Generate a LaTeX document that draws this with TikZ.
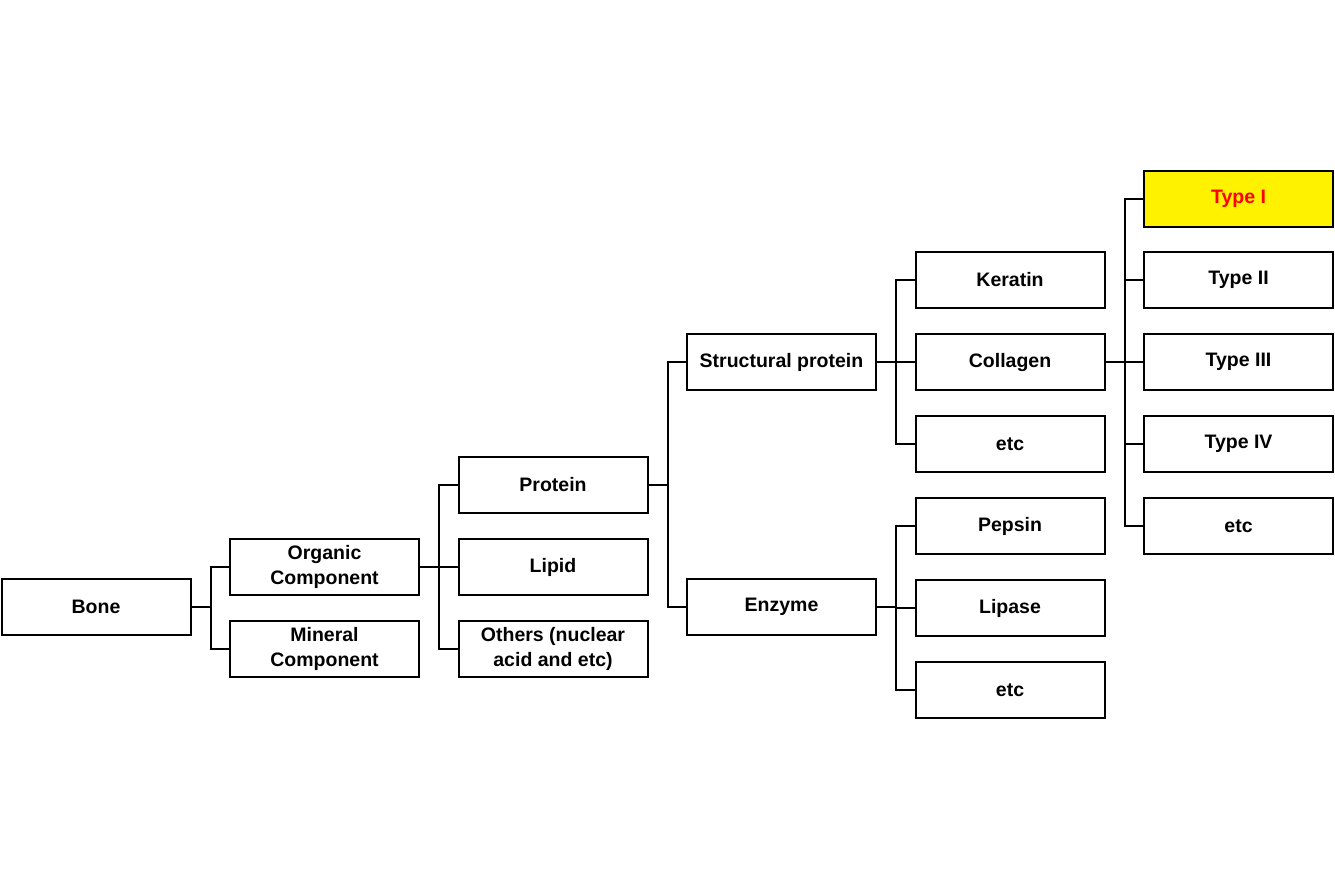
\documentclass[tikz,border=0pt]{standalone}
\usepackage{fontspec}
\setmainfont{Liberation Sans}
\begin{document}
\begin{tikzpicture}[x=1pt,y=-1pt]

\tikzstyle{box}=[rectangle, draw, line width=2pt, minimum width=189pt, minimum height=56pt, inner sep=0pt, align=center, font=\fontsize{19.5}{25}\selectfont\bfseries]
\tikzstyle{hbox}=[box, fill=yellow, text=red]
\tikzstyle{link}=[line width=2pt]

\useasboundingbox (0,0) rectangle (1335,889);

\node (bone) [box] at (96,607) {Bone};

\node (organic) [box] at (324.5,567) {Organic\\Component};
\node (mineral) [box] at (324.5,649) {Mineral\\Component};

\node (protein) [box] at (553,485) {Protein};
\node (lipid) [box] at (553,567) {Lipid};
\node (others) [box] at (553,649) {Others (nuclear\\acid and etc)};

\node (struct) [box] at (781.5,362) {Structural protein};
\node (enzyme) [box] at (781.5,607) {Enzyme};

\node (keratin) [box] at (1010,280) {Keratin};
\node (collagen) [box] at (1010,362) {Collagen};
\node (etcA) [box] at (1010,444) {etc};
\node (pepsin) [box] at (1010,526) {Pepsin};
\node (lipase) [box] at (1010,608) {Lipase};
\node (etcB) [box] at (1010,690) {etc};

\node (typeI) [hbox] at (1238.5,199) {Type I};
\node (typeII) [box] at (1238.5,280) {Type II};
\node (typeIII) [box] at (1238.5,362) {Type III};
\node (typeIV) [box] at (1238.5,444) {Type IV};
\node (etcC) [box] at (1238.5,526) {etc};


\draw [link] (bone.east) -- ++(19,0) |- (organic.west);
\draw [link] (bone.east) -- ++(19,0) |- (mineral.west);

\draw [link] (organic.east) -- ++(19,0) |- (protein.west);
\draw [link] (organic.east) -- ++(19,0) |- (lipid.west);
\draw [link] (organic.east) -- ++(19,0) |- (others.west);

\draw [link] (protein.east) -- ++(19,0) |- (struct.west);
\draw [link] (protein.east) -- ++(19,0) |- (enzyme.west);

\draw [link] (struct.east) -- ++(19,0) |- (keratin.west);
\draw [link] (struct.east) -- ++(19,0) |- (collagen.west);
\draw [link] (struct.east) -- ++(19,0) |- (etcA.west);

\draw [link] (enzyme.east) -- ++(19,0) |- (pepsin.west);
\draw [link] (enzyme.east) -- ++(19,0) |- (lipase.west);
\draw [link] (enzyme.east) -- ++(19,0) |- (etcB.west);

\draw [link] (collagen.east) -- ++(19,0) |- (typeI.west);
\draw [link] (collagen.east) -- ++(19,0) |- (typeII.west);
\draw [link] (collagen.east) -- ++(19,0) |- (typeIII.west);
\draw [link] (collagen.east) -- ++(19,0) |- (typeIV.west);
\draw [link] (collagen.east) -- ++(19,0) |- (etcC.west);

\end{tikzpicture}
\end{document}
